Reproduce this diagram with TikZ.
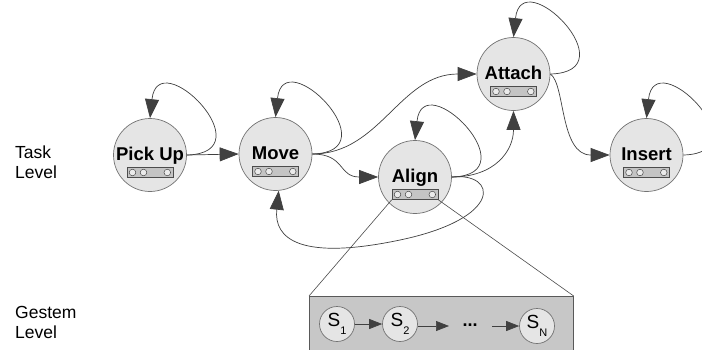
\documentclass[tikz,border=0pt]{standalone}
\usepackage{fontspec}
\setmainfont{Liberation Sans}
\usetikzlibrary{arrows.meta,calc}
\tikzset{
  edgeline/.style={draw=black!75, line width=0.7pt},
  bigarrow/.style={edgeline, -{Triangle[length=19pt,width=14pt]}},
  smallarrow/.style={edgeline, -{Triangle[length=13pt,width=10pt]}},
  taskcircle/.style={circle, draw=black!55, fill=black!10, line width=0.7pt, minimum size=73pt, inner sep=0pt},
  tasktext/.style={font=\bfseries\fontsize{18.5}{20}\selectfont, anchor=base, inner sep=0pt},
  slotbox/.style={draw=black!70, fill=black!23, minimum width=46pt, minimum height=10pt, inner sep=0pt, line width=0.6pt},
  slotdot/.style={circle, draw=black!70, fill=black!8, minimum size=6.6pt, inner sep=0pt, line width=0.5pt},
  gestbox/.style={draw=black!65, fill=black!22, line width=0.7pt, minimum width=264pt, minimum height=70pt, anchor=north west, inner sep=0pt},
  gestcircle/.style={circle, draw=black!55, fill=black!10, line width=0.7pt, minimum size=35pt, inner sep=0pt, font=\fontsize{19}{20}\selectfont},
  leveltext/.style={font=\fontsize{17.5}{20}\selectfont, align=left, anchor=north west, inner sep=0pt},
  zoomline/.style={draw=black!70, line width=0.6pt},
}
\newcommand\tasknode[3]{%
  \node[taskcircle] (#1) at (#2) {};
  \node[tasktext] (#1-t) at ($(#1.center)+(0,5)$) {#3};
  \node[slotbox] (#1-b) at ($(#1.center)+(0,17.5)$) {};
  \node[slotdot] (#1-d1) at ($(#1-b.center)+(-17.5,0)$) {};
  \node[slotdot] (#1-d2) at ($(#1-b.center)+(-6.5,0)$) {};
  \node[slotdot] (#1-d3) at ($(#1-b.center)+(17.3,0)$) {};
}
\newcommand\subs[1]{\raisebox{-8pt}{\fontsize{11}{11}\selectfont #1}}
\begin{document}
\begin{tikzpicture}[x=1pt,y=-1pt]
\clip (0,0) rectangle (702,349);
\fill[white] (0,0) rectangle (702,349);

% level labels
\node[leveltext] (tasklevel) at (15,146) {Task\\Level};
\node[leveltext] (gestlevel) at (15,306) {Gestem\\Level};

% task nodes
\tasknode{pu}{150,155}{Pick Up}
\tasknode{mv}{275.5,154}{Move}
\tasknode{al}{415,177}{Align}
\tasknode{at}{513.5,74}{Attach}
\tasknode{in}{646.5,155}{Insert}

% self loops
\foreach \n in {pu,mv,al,at,in}{
  \draw[bigarrow] (\n.east) .. controls +(80,-2) and +(8,-76) .. (\n.north);
}

% transitions
\draw[bigarrow] (pu.east) -- (mv.west);
\draw[bigarrow] (mv.east) .. controls +(68,0) and +(-77,0) .. (at.west);
\draw[bigarrow] (mv.east) .. controls +(33,0) and +(-40,0) .. (al.west);
\draw[bigarrow] (al.east) .. controls +(43,0) and +(0,40) .. (at.south);
\draw[bigarrow] (at.east) .. controls +(15,10) and +(-50,0) .. (in.west);
\coordinate (backlow) at (400,240);
\draw[bigarrow] (al.east) .. controls +(45,-5) and +(105,-22) .. (backlow)
  .. controls +(-100,21) and +(-5,48) .. (mv.-85);

% gesture box
\node[gestbox] (gbox) at (309,296) {};
\draw[zoomline] (al-b.south west) -- (gbox.north west);
\draw[zoomline] (al-b.south east) -- (gbox.north east);

\node[gestcircle] (s1) at (337,324) {S\subs{1}};
\node[gestcircle] (s2) at (400,324) {S\subs{2}};
\node[gestcircle] (sn) at (537,326) {S\subs{N}};
\node[font=\bfseries\fontsize{18}{20}\selectfont, inner sep=0pt] (dots) at (470,325) {...};
\coordinate (s2out) at (449,326);
\coordinate (snin) at (492,326);
\draw[smallarrow] (s1) -- (s2);
\draw[smallarrow] (s2.east |- s2out) -- (s2out);
\draw[smallarrow] (snin) -- (sn.west |- snin);
\end{tikzpicture}
\end{document}
